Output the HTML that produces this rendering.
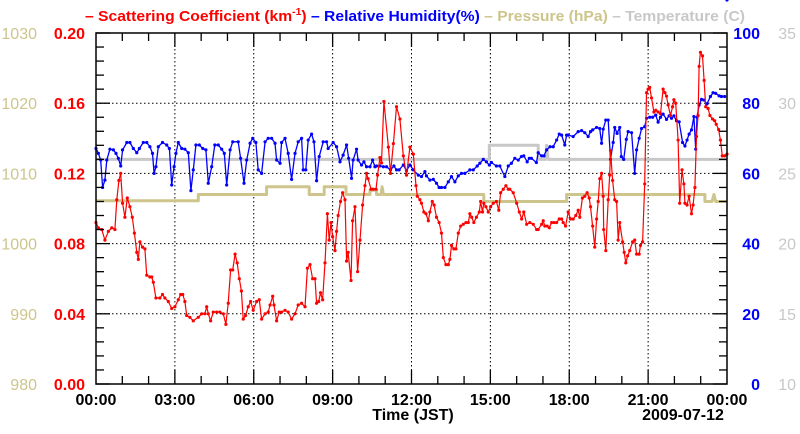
<!DOCTYPE html>
<html><head><meta charset="utf-8"><style>
body{margin:0;background:#fff;}
svg{display:block;font-family:"Liberation Sans",Arial,sans-serif;}
</style></head><body>
<svg id="chart" width="800" height="434" viewBox="0 0 800 434" xmlns="http://www.w3.org/2000/svg">
<g id="grid"></g>
<g id="series"></g>
<rect x="96" y="33" width="631" height="351" fill="none" stroke="#000" stroke-width="1.5"/>
<g id="axes"></g>
<text y="21" font-size="15" font-weight="bold" x="85" textLength="660" lengthAdjust="spacingAndGlyphs"><tspan fill="#f00">– Scattering Coefficient (km</tspan><tspan fill="#f00" font-size="10" dy="-6">-1</tspan><tspan fill="#f00" dy="6">)</tspan><tspan fill="#00f"> – Relative Humidity(%)</tspan><tspan fill="#cdc58c"> – Pressure (hPa)</tspan><tspan fill="#c8c8c8"> – Temperature (C)</tspan></text>
<text x="413" y="420" font-size="16" font-weight="bold" text-anchor="middle">Time (JST)</text>
<text x="683" y="420" font-size="16" font-weight="bold" text-anchor="middle">2009-07-12</text>
</svg>
<script>
const redT=[0,0.09,0.22,0.34,0.47,0.60,0.72,0.79,0.87,0.94,1.01,1.10,1.19,1.29,1.38,1.46,1.55,1.61,1.67,1.77,1.86,1.93,2.05,2.12,2.18,2.28,2.43,2.53,2.62,2.75,2.88,3.00,3.13,3.22,3.30,3.38,3.45,3.57,3.70,3.89,4.02,4.14,4.21,4.27,4.36,4.46,4.59,4.71,4.84,4.94,5.03,5.12,5.20,5.29,5.37,5.45,5.53,5.60,5.69,5.79,5.88,5.98,6.11,6.21,6.30,6.43,6.55,6.62,6.72,6.77,6.87,6.97,7.06,7.19,7.31,7.44,7.57,7.69,7.82,7.95,8.04,8.14,8.24,8.33,8.39,8.47,8.54,8.62,8.71,8.80,8.87,8.94,9.00,9.09,9.15,9.21,9.30,9.38,9.47,9.53,9.59,9.70,9.76,9.85,9.95,10.04,10.14,10.23,10.29,10.35,10.46,10.54,10.65,10.71,10.80,10.86,10.95,11.12,11.20,11.31,11.43,11.56,11.69,11.81,11.94,12.07,12.17,12.22,12.32,12.38,12.47,12.55,12.64,12.70,12.79,12.86,12.95,13.05,13.14,13.21,13.31,13.40,13.46,13.52,13.61,13.69,13.78,13.87,13.97,14.07,14.16,14.22,14.29,14.37,14.47,14.58,14.63,14.70,14.75,14.83,14.92,15.01,15.11,15.23,15.32,15.39,15.49,15.59,15.68,15.74,15.87,16.00,16.10,16.19,16.27,16.38,16.50,16.63,16.76,16.82,16.95,17.01,17.07,17.16,17.24,17.33,17.42,17.52,17.62,17.71,17.77,17.86,17.96,18.05,18.15,18.25,18.34,18.40,18.50,18.59,18.68,18.76,18.81,18.89,18.97,19.04,19.10,19.16,19.23,19.29,19.31,19.39,19.48,19.54,19.57,19.65,19.73,19.80,19.86,19.92,20.03,20.09,20.15,20.22,20.30,20.41,20.49,20.56,20.66,20.71,20.79,20.87,20.94,21.00,21.06,21.13,21.22,21.29,21.38,21.47,21.57,21.64,21.70,21.76,21.85,21.93,21.98,22.05,22.14,22.20,22.29,22.36,22.40,22.48,22.56,22.65,22.71,22.78,22.84,22.90,22.94,22.99,23.07,23.13,23.19,23.28,23.35,23.45,23.53,23.59,23.68,23.75,23.82,23.91,24.0];
const redV=[0.092,0.089,0.088,0.082,0.087,0.089,0.088,0.105,0.116,0.120,0.103,0.095,0.106,0.101,0.095,0.086,0.075,0.071,0.081,0.078,0.077,0.062,0.061,0.061,0.058,0.049,0.049,0.051,0.049,0.047,0.043,0.044,0.048,0.051,0.051,0.047,0.039,0.038,0.036,0.038,0.040,0.040,0.044,0.040,0.036,0.041,0.041,0.041,0.040,0.034,0.046,0.065,0.065,0.074,0.069,0.060,0.053,0.037,0.039,0.044,0.047,0.042,0.047,0.048,0.037,0.040,0.041,0.045,0.050,0.045,0.036,0.041,0.041,0.042,0.041,0.037,0.040,0.045,0.046,0.044,0.066,0.068,0.060,0.060,0.046,0.047,0.052,0.048,0.069,0.097,0.082,0.092,0.084,0.076,0.087,0.096,0.104,0.109,0.105,0.070,0.075,0.059,0.093,0.101,0.064,0.082,0.102,0.113,0.120,0.117,0.111,0.111,0.111,0.119,0.129,0.126,0.161,0.135,0.120,0.137,0.158,0.151,0.130,0.119,0.135,0.131,0.113,0.107,0.105,0.103,0.098,0.097,0.093,0.098,0.104,0.102,0.095,0.092,0.086,0.072,0.068,0.068,0.071,0.079,0.077,0.077,0.086,0.090,0.091,0.092,0.092,0.097,0.095,0.092,0.095,0.098,0.104,0.098,0.103,0.101,0.098,0.101,0.103,0.104,0.099,0.109,0.111,0.113,0.111,0.111,0.109,0.103,0.098,0.094,0.098,0.091,0.092,0.091,0.088,0.088,0.091,0.093,0.090,0.090,0.089,0.092,0.092,0.092,0.094,0.094,0.092,0.090,0.098,0.094,0.094,0.096,0.099,0.095,0.106,0.107,0.109,0.106,0.101,0.090,0.078,0.094,0.104,0.117,0.120,0.107,0.088,0.076,0.105,0.119,0.133,0.116,0.105,0.104,0.082,0.092,0.081,0.075,0.069,0.073,0.076,0.081,0.082,0.074,0.074,0.079,0.081,0.114,0.166,0.168,0.169,0.163,0.155,0.156,0.155,0.154,0.168,0.166,0.164,0.159,0.153,0.158,0.162,0.160,0.139,0.103,0.122,0.114,0.103,0.102,0.107,0.097,0.102,0.112,0.141,0.153,0.181,0.189,0.187,0.173,0.158,0.157,0.153,0.151,0.150,0.148,0.145,0.139,0.130,0.130,0.131];
const rhT=[0,0.09,0.18,0.25,0.34,0.41,0.53,0.66,0.76,0.85,0.94,1.01,1.17,1.29,1.42,1.55,1.65,1.80,1.93,2.05,2.15,2.21,2.28,2.37,2.53,2.69,2.79,2.88,2.97,3.04,3.13,3.26,3.38,3.51,3.61,3.70,3.80,3.93,4.06,4.18,4.27,4.40,4.52,4.65,4.78,4.88,4.97,5.10,5.20,5.41,5.50,5.63,5.73,5.86,5.96,6.08,6.17,6.30,6.43,6.55,6.68,6.81,6.87,7.00,7.06,7.19,7.31,7.44,7.57,7.69,7.82,7.88,7.98,8.07,8.20,8.29,8.39,8.49,8.64,8.77,8.83,9.02,9.15,9.28,9.40,9.53,9.61,9.72,9.78,9.91,9.97,10.10,10.19,10.29,10.42,10.52,10.61,10.67,10.80,10.93,11.05,11.20,11.33,11.43,11.53,11.69,11.81,11.94,12.07,12.26,12.38,12.51,12.57,12.70,12.83,12.95,13.05,13.14,13.27,13.40,13.52,13.65,13.78,13.90,14.03,14.22,14.35,14.50,14.60,14.73,14.85,14.96,15.04,15.23,15.36,15.55,15.68,15.80,15.93,16.06,16.18,16.27,16.40,16.48,16.56,16.75,16.82,16.95,17.04,17.14,17.27,17.39,17.52,17.62,17.71,17.83,17.90,17.96,18.15,18.34,18.47,18.59,18.72,18.81,18.89,19.04,19.16,19.23,19.29,19.39,19.48,19.57,19.67,19.73,19.82,19.92,19.98,20.07,20.17,20.24,20.37,20.49,20.56,20.66,20.75,20.87,20.94,21.06,21.17,21.29,21.38,21.47,21.57,21.70,21.80,21.89,21.98,22.08,22.18,22.31,22.40,22.48,22.56,22.65,22.74,22.81,22.86,22.94,23.03,23.12,23.24,23.37,23.47,23.57,23.70,23.79,23.91,24.0];
const rhV=[67.1,65.7,63.8,56.0,58.1,63.8,66.9,66.7,65.7,64.3,62.1,66.7,68.8,68.8,67.1,65.9,67.1,68.8,68.8,67.6,65.7,60.0,61.9,67.6,68.8,68.1,67.1,56.7,61.9,65.7,68.8,67.1,66.9,65.9,55.1,61.0,68.1,68.1,67.1,66.7,57.2,61.9,68.1,68.1,66.9,65.7,56.7,66.7,69.0,69.0,64.3,57.2,63.8,68.6,70.0,68.8,61.0,60.0,69.0,70.0,70.0,68.6,63.8,62.9,68.8,70.0,65.7,58.3,65.7,69.0,70.0,61.0,61.0,69.5,71.2,69.0,57.9,64.8,69.0,69.0,67.1,68.8,67.6,63.3,65.2,68.1,64.3,58.6,63.8,66.9,63.8,62.4,63.3,61.9,61.9,63.8,61.9,62.1,62.1,61.9,61.9,61.0,62.1,61.0,61.0,62.4,60.8,62.4,61.0,59.5,59.1,60.5,59.3,58.1,58.3,57.2,56.0,56.0,56.0,57.6,59.1,57.6,59.3,60.0,60.0,61.0,61.0,62.1,62.9,64.0,63.3,62.4,63.1,62.1,62.1,59.1,62.1,62.9,64.3,63.8,64.8,65.0,63.3,64.3,64.3,63.1,65.9,65.0,65.0,66.7,67.6,67.6,69.5,71.2,70.9,68.1,70.9,70.9,70.5,71.9,72.2,71.6,70.5,71.9,72.4,73.1,72.8,68.6,72.6,75.2,75.2,64.0,68.8,73.1,71.4,73.1,64.8,64.0,69.7,71.9,71.6,60.0,66.7,70.0,72.8,73.3,75.7,76.0,76.0,76.6,74.6,76.0,76.9,75.4,76.4,75.7,76.4,75.0,74.7,68.8,67.8,69.5,71.2,72.4,76.2,66.9,76.0,79.5,81.1,80.9,79.8,81.9,83.0,82.8,82.1,81.9,81.9];
const presT=[0,3.89,3.89,6.49,6.49,8.11,8.11,8.68,8.68,9.51,9.51,10.42,10.42,10.67,10.67,10.84,10.88,10.93,14.75,14.75,17.9,17.9,23.16,23.16,23.43,23.5,23.57,24];
const presV=[1006.1,1006.1,1007.0,1007.0,1008.1,1008.1,1007.0,1007.0,1008.1,1008.1,1007.0,1007.0,1007.6,1007.6,1007.0,1007.0,1008.1,1007.0,1007.0,1006.0,1006.0,1007.0,1007.0,1006.0,1006.0,1007.0,1006.0,1006.0];
const tempT=[0,14.96,14.96,16.82,16.82,17.10,17.14,17.20,24];
const tempV=[26,26,27,27,26,26,27,26,26];
const xTicks=["00:00","03:00","06:00","09:00","12:00","15:00","18:00","21:00","00:00"];
const leftTicks=["0.00","0.04","0.08","0.12","0.16","0.20"];
const presTicks=["980","990","1000","1010","1020","1030"];
const rhTicks=["0","20","40","60","80","100"];
const tempTicks=["10","15","20","25","30","35"];

const L=96,R=727,T=33,B=384,NS="http://www.w3.org/2000/svg";
const xS=h=>L+(R-L)*h/24;
const yRed=v=>B-(B-T)*v/0.2;
const yRH=v=>B-(B-T)*v/100;
const yP=v=>B-(B-T)*(v-980)/50;
const yTmp=v=>B-(B-T)*(v-10)/25;
function mk(tag,attrs,parent){const e=document.createElementNS(NS,tag);for(const k in attrs)e.setAttribute(k,attrs[k]);parent.appendChild(e);return e;}
const grid=document.getElementById('grid'),axes=document.getElementById('axes'),ser=document.getElementById('series');
for(let i=1;i<8;i++){const x=xS(i*3);const g=mk('line',{x1:x,x2:x,y1:T,y2:B,stroke:'#000','stroke-width':1,'stroke-dasharray':'1.5,2.5'},grid);

}
for(let i=1;i<5;i++){const y=B-(B-T)*i/5;const g=mk('line',{x1:L,x2:R,y1:y,y2:y,stroke:'#000','stroke-width':1,'stroke-dasharray':'1.5,2.5'},grid);

}
for(let i=0;i<=25;i++){const y=B-(B-T)*i/25;const len=i%5===0?14:8;
mk('line',{x1:L,x2:L+len,y1:y,y2:y,stroke:'#000','stroke-width':1.3},axes);
mk('line',{x1:R,x2:R-len,y1:y,y2:y,stroke:'#000','stroke-width':1.3},axes);}
for(let h=1;h<24;h++){const x=xS(h);const len=h%3===0?14:8;
mk('line',{x1:x,x2:x,y1:B,y2:B-len,stroke:'#000','stroke-width':1.3},axes);
mk('line',{x1:x,x2:x,y1:T,y2:T+len,stroke:'#000','stroke-width':1.3},axes);}
xTicks.forEach((t,i)=>{const e=mk('text',{x:xS(i*3),y:405,'font-size':16,'font-weight':'bold','text-anchor':'middle'},axes);e.textContent=t;

});
leftTicks.forEach((t,i)=>{const y=B-(B-T)*i/5+6;
const a=mk('text',{x:85,y:y,'font-size':16,'font-weight':'bold','text-anchor':'end',fill:'#f00'},axes);a.textContent=t;


const b=mk('text',{x:37,y:y,'font-size':16,'text-anchor':'end',fill:'#cdc58c'},axes);b.textContent=presTicks[i];


const c=mk('text',{x:760,y:y,'font-size':16,'font-weight':'bold','text-anchor':'end',fill:'#00f'},axes);c.textContent=rhTicks[i];


const d=mk('text',{x:796,y:y,'font-size':16,'text-anchor':'end',fill:'#c8c8c8'},axes);d.textContent=tempTicks[i];

});
function line(ts,vs,yf,color,w,name,dots){const pts=ts.map((t,i)=>xS(t).toFixed(1)+','+yf(vs[i]).toFixed(1)).join(' ');
const p=mk('polyline',{points:pts,fill:'none',stroke:color,'stroke-width':w,'stroke-linejoin':'round'},ser);


if(dots){ts.forEach((t,i)=>{const c=mk('circle',{cx:xS(t),cy:yf(vs[i]),r:1.6,fill:color},ser);

});}}
line(tempT,tempV,yTmp,'#c8c8c8',3,'temperature-line',false);
line(presT,presV,yP,'#cdc58c',3,'pressure-line',false);
line(rhT,rhV,yRH,'#00f',1.3,'humidity-line',true);
line(redT,redV,yRed,'#f00',1.2,'scattering-line',true);
</script>
</body></html>
